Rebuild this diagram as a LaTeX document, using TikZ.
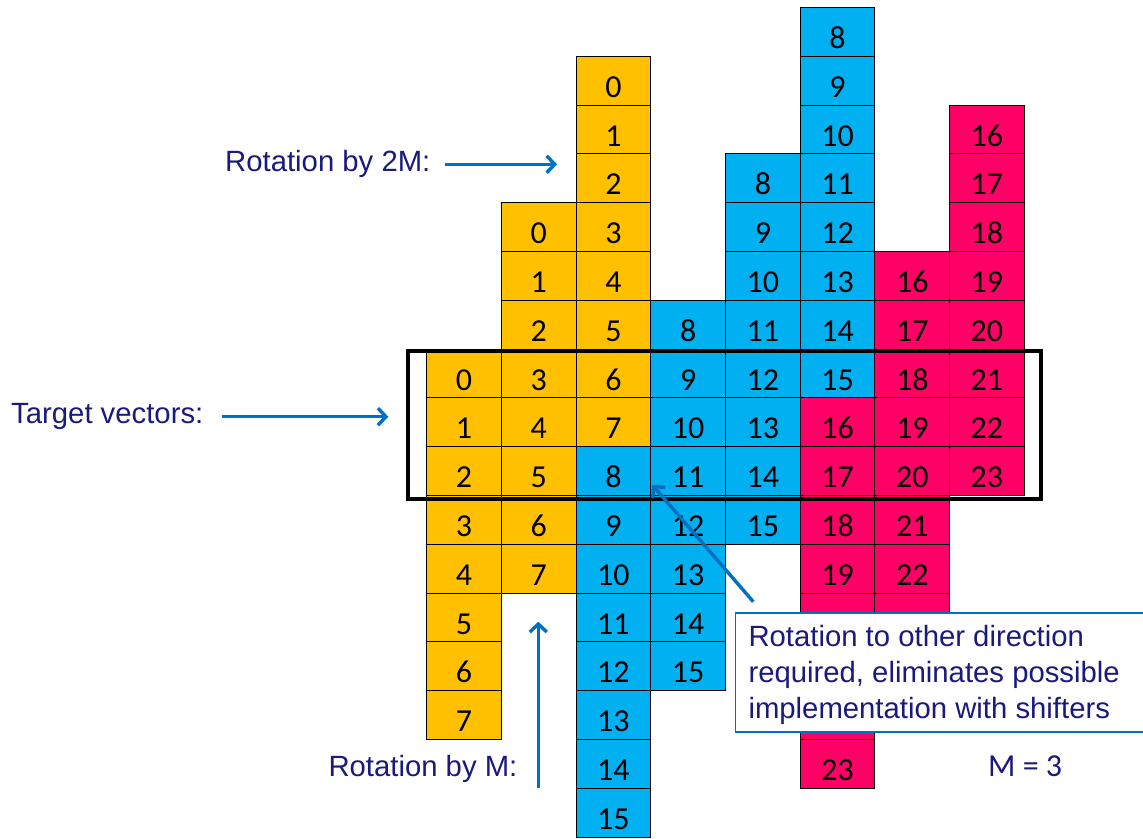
\documentclass[tikz,border=0pt]{standalone}
\usepackage{fontspec}
\setmainfont{Liberation Sans}
\newfontfamily\calibri{Carlito}
\usetikzlibrary{arrows.meta}
\definecolor{orng}{HTML}{FFC000}
\definecolor{blu}{HTML}{00B0F0}
\definecolor{pnk}{HTML}{FF0066}
\definecolor{navy}{RGB}{26,26,122}
\definecolor{arrblue}{HTML}{0070C0}
\begin{document}
\begin{tikzpicture}[x=1pt,y=-1pt,
  cell/.style={draw=black, line width=0.9pt, minimum width=74.7pt, minimum height=48.8pt,
    inner sep=0pt, text height=33pt, text depth=0pt,
    font=\calibri\fontsize{32}{38}\selectfont},
  lbl/.style={text=navy, font=\fontsize{29.3}{35}\selectfont, inner sep=0pt, anchor=base west},
  arr/.style={draw=arrblue, line width=3.4pt, -{Straight Barb[length=8pt,width=17pt]}}]
\useasboundingbox (0,0) rectangle (1143,838);
% cells
\foreach \c/\a/\b/\col in {0/0/7/orng, 1/0/7/orng, 2/0/7/orng, 2/8/15/blu, 3/8/15/blu,
  4/8/15/blu, 5/8/15/blu, 5/16/23/pnk, 6/16/23/pnk, 7/16/23/pnk}{
  \foreach \n in {\a,...,\b}{
    \pgfmathsetmacro\xx{426.7+74.7*\c+37.35}
    \pgfmathsetmacro\yy{7.5+48.8*(\n+7-3*\c)+24.4}
    \pgfmathtruncatemacro\hid{((\c==5)&&(\n>=20)&&(\n<=22))||((\c==6)&&(\n==23))}
    \node[cell, fill=\col] (c\c n\n) at (\xx,\yy) {\ifnum\hid=0 \n\fi};
  }
}
% target frame
\node[draw=black, line width=4.5pt, minimum width=633pt, minimum height=148pt, inner sep=0pt]
  (target) at (724.5,425) {};
% labels
\node[lbl] (l2m) at (225,171.5) {Rotation by 2M:};
\node[lbl] (ltv) at (11,423.5) {Target vectors:};
\node[lbl] (lm) at (328.3,776) {Rotation by M:};
\node[text=navy, font=\calibri\fontsize{32}{38}\selectfont, inner sep=0pt, anchor=base west]
  (mval) at (988,776.7) {M = 3};
% arrows
\coordinate (a2s) at (445,164.3);
\coordinate (a2e) at (557,164.3);
\draw[arr] (a2s) -- (a2e);
\coordinate (ats) at (221.7,416.7);
\coordinate (ate) at (388.3,416.7);
\draw[arr] (ats) -- (ate);
\coordinate (ams) at (538.3,788);
\coordinate (ame) at (538.3,621.7);
\draw[arr] (ams) -- (ame);
% note box
\node[draw=arrblue, line width=1.3pt, fill=white, anchor=north west, minimum width=410pt,
  minimum height=119pt, inner sep=0pt] (note) at (734.7,612.3) {};
\node[lbl] (n1) at (748.3,646.7) {Rotation to other direction};
\node[lbl] (n2) at (748.3,682.2) {required, eliminates possible};
\node[lbl] (n3) at (748.3,718.3) {implementation with shifters};
\coordinate (ads) at (753.3,601.7);
\coordinate (ade) at (652.3,485);
\draw[arr] (ads) -- (ade);
\end{tikzpicture}
\end{document}
